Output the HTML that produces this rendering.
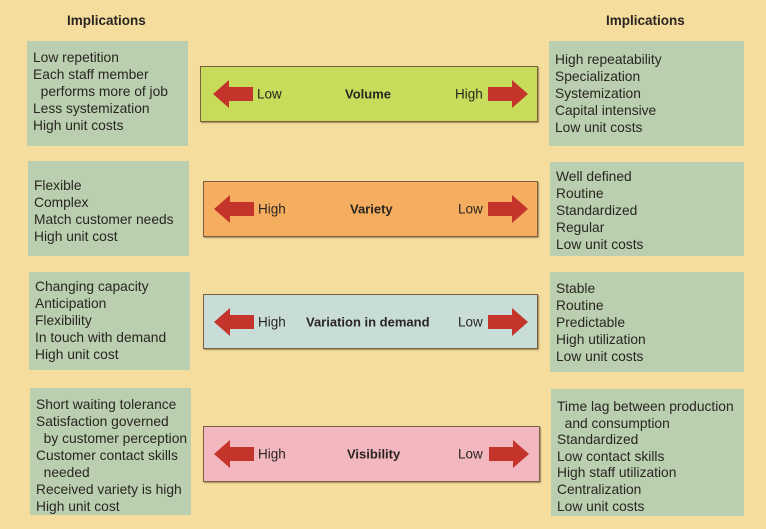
<!DOCTYPE html>
<html><head><style>
body{margin:0;width:766px;height:529px;overflow:hidden;background:#f5dd9e;font-family:"Liberation Sans",sans-serif;color:#2a2520;position:relative}
.h{position:absolute;top:13px;font-weight:bold;font-size:13.5px}
.b{position:absolute;background:#b9cfb0;font-size:13.8px;line-height:17px;padding-left:6px;box-sizing:border-box;white-space:nowrap}
.bar{position:absolute;border:1.5px solid #7a6040;box-sizing:border-box;box-shadow:1px 1px 1px rgba(80,60,30,.5);font-size:13.5px}
.bar span{position:absolute;top:50%;transform:translateY(-50%)}
.bar b{position:absolute;top:50%;transform:translateY(-50%);font-size:13px}
svg{position:absolute;top:50%;margin-top:-14px}
</style></head><body>
<div class="h" style="left:67px">Implications</div>
<div class="h" style="left:606px">Implications</div>

<div class="b" style="left:27px;top:41px;width:161px;height:105px;padding-top:8px">Low repetition<br>Each staff member<br>&nbsp;&nbsp;performs more of job<br>Less systemization<br>High unit costs</div>
<div class="b" style="left:28px;top:161px;width:161px;height:95px;padding-top:16px">Flexible<br>Complex<br>Match customer needs<br>High unit cost</div>
<div class="b" style="left:29px;top:272px;width:161px;height:98px;padding-top:6px">Changing capacity<br>Anticipation<br>Flexibility<br>In touch with demand<br>High unit cost</div>
<div class="b" style="left:30px;top:388px;width:161px;height:127px;padding-top:8px">Short waiting tolerance<br>Satisfaction governed<br>&nbsp;&nbsp;by customer perception<br>Customer contact skills<br>&nbsp;&nbsp;needed<br>Received variety is high<br>High unit cost</div>

<div class="b" style="left:549px;top:41px;width:195px;height:105px;padding-top:10px">High repeatability<br>Specialization<br>Systemization<br>Capital intensive<br>Low unit costs</div>
<div class="b" style="left:550px;top:162px;width:194px;height:94px;padding-top:6px">Well defined<br>Routine<br>Standardized<br>Regular<br>Low unit costs</div>
<div class="b" style="left:550px;top:272px;width:194px;height:100px;padding-top:8px">Stable<br>Routine<br>Predictable<br>High utilization<br>Low unit costs</div>
<div class="b" style="left:551px;top:389px;width:193px;height:127px;padding-top:10px;line-height:16.6px">Time lag between production<br>&nbsp;&nbsp;and consumption<br>Standardized<br>Low contact skills<br>High staff utilization<br>Centralization<br>Low unit costs</div>

<div class="bar" style="left:200px;top:66px;width:338px;height:56px;background:#c6dc5a">
<svg style="left:12px" width="40" height="28"><polygon points="0,14 16,0 16,7 40,7 40,21 16,21 16,28" fill="#c4342a"/></svg>
<span style="left:56px">Low</span><b style="left:144px">Volume</b><span style="left:254px">High</span>
<svg style="left:287px" width="40" height="28"><polygon points="40,14 24,0 24,7 0,7 0,21 24,21 24,28" fill="#c4342a"/></svg></div>

<div class="bar" style="left:203px;top:181px;width:335px;height:56px;background:#f5ad60">
<svg style="left:10px" width="40" height="28"><polygon points="0,14 16,0 16,7 40,7 40,21 16,21 16,28" fill="#c4342a"/></svg>
<span style="left:54px">High</span><b style="left:146px">Variety</b><span style="left:254px">Low</span>
<svg style="left:284px" width="40" height="28"><polygon points="40,14 24,0 24,7 0,7 0,21 24,21 24,28" fill="#c4342a"/></svg></div>

<div class="bar" style="left:203px;top:294px;width:335px;height:55px;background:#c8dcd8">
<svg style="left:10px" width="40" height="28"><polygon points="0,14 16,0 16,7 40,7 40,21 16,21 16,28" fill="#c4342a"/></svg>
<span style="left:54px">High</span><b style="left:102px">Variation in demand</b><span style="left:254px">Low</span>
<svg style="left:284px" width="40" height="28"><polygon points="40,14 24,0 24,7 0,7 0,21 24,21 24,28" fill="#c4342a"/></svg></div>

<div class="bar" style="left:203px;top:426px;width:337px;height:56px;background:#f3b7c0">
<svg style="left:10px" width="40" height="28"><polygon points="0,14 16,0 16,7 40,7 40,21 16,21 16,28" fill="#c4342a"/></svg>
<span style="left:54px">High</span><b style="left:143px">Visibility</b><span style="left:254px">Low</span>
<svg style="left:285px" width="40" height="28"><polygon points="40,14 24,0 24,7 0,7 0,21 24,21 24,28" fill="#c4342a"/></svg></div>
</body></html>
